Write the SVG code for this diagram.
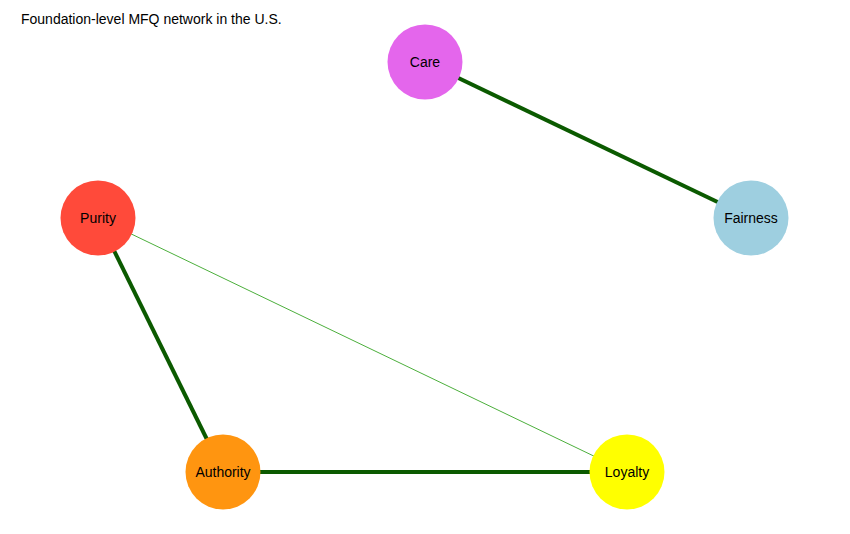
<svg xmlns="http://www.w3.org/2000/svg" width="850" height="534" viewBox="0 0 850 534">
<style>
text{font-family:"Liberation Sans",Arial,sans-serif;font-size:14px;fill:#000}
.n text{text-anchor:middle;dominant-baseline:central}
.thick{stroke:#0b5a00;stroke-width:4}
.thin{stroke:#4caf3c;stroke-width:1}
</style>
<rect width="850" height="534" fill="#fff"/>
<text x="21" y="24">Foundation-level MFQ network in the U.S.</text>
<g id="connectors">
<line class="thick" x1="425" y1="62" x2="751" y2="218"/>
<line class="thick" x1="98" y1="218" x2="223" y2="472"/>
<line class="thick" x1="223" y1="472" x2="627" y2="472"/>
<line class="thin" x1="98" y1="218" x2="627" y2="472"/>
</g>
<g id="care" class="n"><circle cx="425" cy="62" r="37.5" fill="#e466ec"/><text x="425" y="62">Care</text></g>
<g id="fairness" class="n"><circle cx="751" cy="218" r="37.5" fill="#9ecfe0"/><text x="751" y="218">Fairness</text></g>
<g id="purity" class="n"><circle cx="98" cy="218" r="37.5" fill="#ff4a3a"/><text x="98" y="218">Purity</text></g>
<g id="authority" class="n"><circle cx="223" cy="472" r="37.5" fill="#ff9510"/><text x="223" y="472">Authority</text></g>
<g id="loyalty" class="n"><circle cx="627" cy="472" r="37.5" fill="#ffff00"/><text x="627" y="472">Loyalty</text></g>
</svg>
